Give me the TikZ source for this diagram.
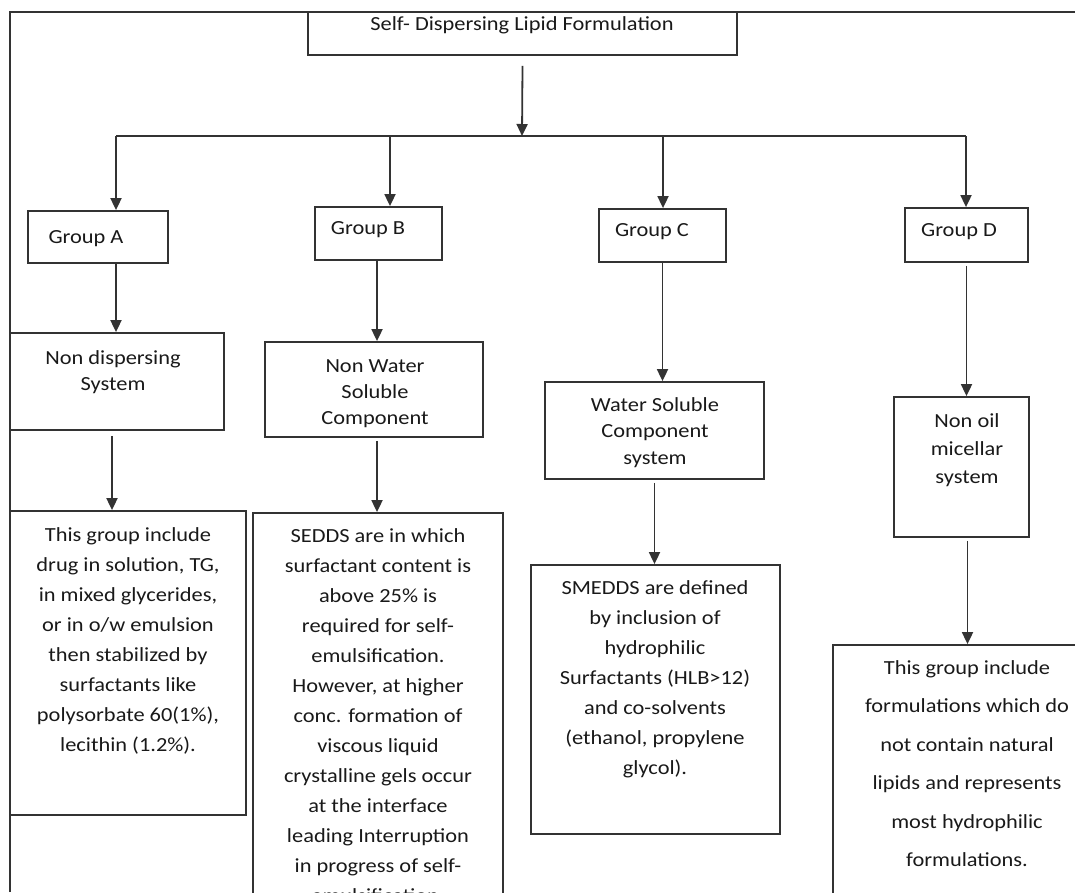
\documentclass[tikz,border=0pt]{standalone}
\usepackage{fontspec}
\setmainfont{Carlito}[FakeStretch=1.12]
\usetikzlibrary{arrows.meta}

\tikzset{
  box/.style={draw=black!80, line width=1.8pt, inner sep=0pt},
  lbl/.style={text=black!90, align=center, inner sep=0pt, anchor=base},
  line/.style={draw=black!80, line width=1.8pt},
  arr/.style={line, -{Triangle[width=11pt,length=12pt]}},
}
\newcommand{\fs}[1]{\fontsize{20}{#1}\selectfont}

\begin{document}
\begin{tikzpicture}[x=1pt, y=-1pt]
\useasboundingbox (0,0) rectangle (1075,892);
\clip (0,0) rectangle (1075,892);
% outer frame
\draw[line] (10,892) -- (10,12) -- (1075,12);
% boxes
\node[box, minimum width=429pt, minimum height=43pt] (top) at (522.5,33.5) {};
\node[box, minimum width=140pt, minimum height=52pt] (grpA) at (98,237) {};
\node[box, minimum width=127pt, minimum height=53pt] (grpB) at (378.5,233.5) {};
\node[box, minimum width=127pt, minimum height=53pt] (grpC) at (662.5,235.5) {};
\node[box, minimum width=123pt, minimum height=54pt] (grpD) at (966.5,235) {};
\node[box, minimum width=214pt, minimum height=97pt] (ndisp) at (117,381.5) {};
\node[box, minimum width=218pt, minimum height=95pt] (nws) at (374,389.5) {};
\node[box, minimum width=219pt, minimum height=97pt] (ws) at (654.5,430.5) {};
\node[box, minimum width=135pt, minimum height=140pt] (nom) at (961.5,467) {};
\node[box, minimum width=236pt, minimum height=304pt] (txtA) at (128,663) {};
\node[box, minimum width=250pt, minimum height=407pt] (txtB) at (378,716.5) {};
\node[box, minimum width=249pt, minimum height=269pt] (txtC) at (655.5,699.5) {};
\node[box, minimum width=267pt, minimum height=275pt] (txtD) at (966.5,782.5) {};
% texts (base = last line)
\node[lbl, font=\fs{24}] (top-t) at (522,30.5) {Self- Dispersing Lipid Formulation};
\node[lbl, font=\fs{24}] (grpA-t) at (86,243) {Group A};
\node[lbl, font=\fs{24}] (grpB-t) at (368,234) {Group B};
\node[lbl, font=\fs{24}] (grpC-t) at (652,236) {Group C};
\node[lbl, font=\fs{24}] (grpD-t) at (959,236) {Group D};
\node[lbl, font=\fs{26}] (ndisp-t) at (113,390) {Non dispersing\\System};
\node[lbl, font=\fs{26}] (nws-t) at (375,424) {Non Water\\Soluble\\Component};
\node[lbl, font=\fs{26.5}] (ws-t) at (655,464) {Water Soluble\\Component\\system};
\node[lbl, font=\fs{28}] (nom-t) at (967,483) {Non oil\\micellar\\system};
\node[lbl, font=\fs{30}] (txtA-t) at (128,751) {This group include\\drug in solution, TG,\\in mixed glycerides,\\or in o/w emulsion\\then stabilized by\\surfactants like\\polysorbate 60(1\%),\\lecithin (1.2\%).};
\node[lbl, font=\fs{30}] (txtB-t) at (378,902) {SEDDS are in which\\surfactant content is\\above 25\% is\\required for self-\\emulsification.\\However, at higher\\conc. formation of\\viscous liquid\\crystalline gels occur\\at the interface\\leading Interruption\\in progress of self-\\emulsification.};
\node[lbl, font=\fs{30}] (txtC-t) at (655,774) {SMEDDS are defined\\by inclusion of\\hydrophilic\\Surfactants (HLB>12)\\and co-solvents\\(ethanol, propylene\\glycol).};
\node[lbl, font=\fs{38.5}] (txtD-t) at (967,866.5) {This group include\\formulations which do\\not contain natural\\lipids and represents\\most hydrophilic\\formulations.};
% connectors
\coordinate (hub) at (522,136);
\coordinate (hA) at (116,136);
\coordinate (hB) at (390,136);
\coordinate (hC) at (663,136);
\coordinate (hD) at (966,136);
\draw[arr] ([yshift=-10pt]top.south) -- (hub);
\draw[line] (hA) -- (hD);
\draw[arr] (hA) -- (hA |- grpA.north);
\draw[arr] (hB) -- (hB |- grpB.north);
\draw[arr] (hC) -- (hC |- grpC.north);
\draw[arr] (hD) -- (hD |- grpD.north);
\draw[arr] (hA |- grpA.south) -- (hA |- ndisp.north);
\draw[arr] ([xshift=-5pt,yshift=-5pt]ndisp.south) -- ([xshift=-5pt]ndisp.south |- txtA.north);
\draw[arr] ([xshift=3pt]grpB.south -| nws.north) -- ([xshift=3pt]nws.north);
\draw[arr] ([xshift=3pt,yshift=-3pt]nws.south) -- ([xshift=3pt]nws.south |- txtB.north);
\draw[arr] (grpC.south) -- (grpC.south |- ws.north);
\draw[arr] ([yshift=-3pt]ws.south) -- (ws.south |- txtC.north);
\draw[arr] ([yshift=-3pt]grpD.south) -- (grpD.south |- nom.north);
\draw[arr] ([xshift=6pt,yshift=-3pt]nom.south) -- ([xshift=6pt]nom.south |- txtD.north);
\end{tikzpicture}
\end{document}
